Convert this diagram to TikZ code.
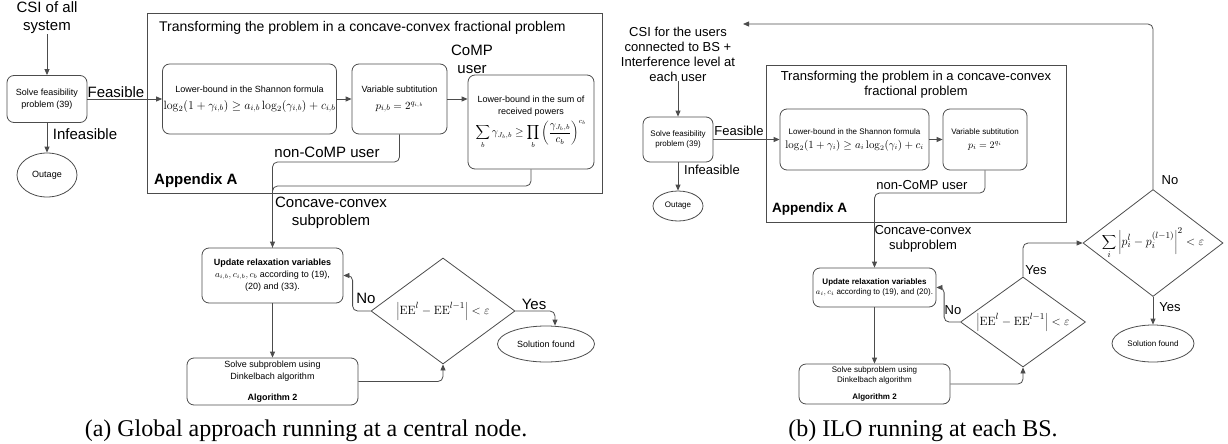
\documentclass[tikz,border=0pt]{standalone}
\usepackage[no-math]{fontspec}
\setmainfont{Liberation Sans}
\newfontfamily\capfont{Liberation Serif}
\usetikzlibrary{shapes.geometric,arrows.meta}
\tikzset{
  box/.style={draw=black!70,line width=0.8pt,rounded corners=7pt,align=center,inner sep=1pt},
  frame/.style={draw=black!70,line width=0.8pt,inner sep=0pt},
  oval/.style={draw=black!70,line width=0.8pt,ellipse,inner sep=0pt},
  dec/.style={draw=black!70,line width=0.8pt,diamond,inner sep=0pt},
  link/.style={draw=black!70,line width=0.8pt,rounded corners=5pt},
  arr/.style={link,-{Triangle[length=6pt,width=5pt]}},
  lblA/.style={font=\fontsize{15}{18}\selectfont,align=center,inner sep=0pt},
  lblB/.style={font=\fontsize{13}{15}\selectfont,align=center,inner sep=0pt},
  txtA/.style={font=\fontsize{9}{12}\selectfont},
  txtB/.style={font=\fontsize{8}{10}\selectfont},
}
\begin{document}
\begin{tikzpicture}[x=1pt,y=-1pt]
\useasboundingbox (0,0) rectangle (1228,444);
% (a) global approach
\node[lblA] (csiA) at (47,18) {CSI of all\\system};
\node[box,txtA,minimum width=80,minimum height=47] (feasA) at (47,99) {Solve feasibility\\problem (39)};
\node[oval,txtA,minimum width=60,minimum height=44] (outA) at (47,175) {Outage};
\node[frame,minimum width=455,minimum height=180] (appA) at (374.5,103) {};
\node[lblA,anchor=west,font=\fontsize{14}{17}\selectfont] (titA) at (159,28) {Transforming the problem in a concave-convex fractional problem};
\node[lblA,anchor=west,font=\bfseries\fontsize{15}{18}\selectfont] (appLblA) at (154,181) {Appendix A};
\node[box,txtA,minimum width=173,minimum height=70] (shanA) at (249.5,99) {Lower-bound in the Shannon formula\\[5pt]{\fontsize{12}{14}\selectfont $\log_2(1+\gamma_{i,b})\geq a_{i,b}\log_2(\gamma_{i,b})+c_{i,b}$}};
\node[box,txtA,minimum width=95,minimum height=70] (varA) at (399.5,99) {Variable subtitution\\[5pt]{\fontsize{11}{13}\selectfont $p_{i,b}=2^{q_{i,b}}$}};
\node[box,txtA,minimum width=126,minimum height=94] (compA) at (531,122) {Lower-bound in the sum of\\received powers\\[3pt]{\fontsize{10.5}{12}\selectfont $\displaystyle\sum_b \gamma_{J_b,b}\geq\prod_b\left(\frac{\gamma_{J_b,b}}{c_b}\right)^{c_b}$}};
\node[lblA] (compLbl) at (472,59) {CoMP\\user};
\node[lblA] (nonLblA) at (327,152) {non-CoMP user};
\node[lblA] (concA) at (331,213) {Concave-convex\\subproblem};
\node[box,txtA,minimum width=141,minimum height=55] (updA) at (272.5,275.5) {\textbf{Update relaxation variables}\\$a_{i,b},c_{i,b},c_b$ according to (19),\\(20) and (33).};
\node[box,txtA,minimum width=171,minimum height=47] (dinkA) at (272.5,381.5) {Solve subproblem using\\Dinkelbach algorithm\\[9pt]\textbf{Algorithm 2}};
\node[dec,minimum width=144,minimum height=106] (decA) at (443,311) {\makebox[0pt]{\fontsize{13}{15}\selectfont$\left|\mathrm{EE}^{l}-\mathrm{EE}^{l-1}\right|<\varepsilon$}};
\node[oval,txtA,minimum width=97,minimum height=36] (solA) at (546,344) {Solution found};
\node[lblA] (feasLblA) at (116,92) {Feasible};
\node[lblA] (infLblA) at (85,134) {Infeasible};
\node[lblA] (noA) at (366,298) {No};
\node[lblA] (yesA) at (534,304) {Yes};
\coordinate (jA) at (272.5,162);
\coordinate (kA) at (272.5,186);
\draw[arr] (csiA) -- (feasA);
\draw[arr] (feasA) -- (shanA);
\draw[arr] (feasA) -- (outA);
\draw[arr] (shanA) -- (varA);
\draw[arr] (varA.east) -- (varA.east -| compA.west);
\draw[link] (compA.south) |- (kA) -- (updA.north);
\draw[arr] (varA.south) |- (jA) -- (updA.north);
\draw[arr] (updA) -- (dinkA);
\draw[arr] (dinkA.east) -| (decA.south);
\draw[arr] (decA.west) -- ++(-18,0) |- (updA.east);
\draw[arr] (decA.east) -| ([xshift=9]solA.north);
% (b) ILO at each BS
\node[lblB] (csiB) at (678,54) {CSI for the users\\connected to BS +\\Interference level at\\each user};
\node[box,txtB,minimum width=70,minimum height=45] (feasB) at (678,139.5) {Solve feasibility\\problem (39)};
\node[oval,txtB,minimum width=50,minimum height=30] (outB) at (678,206) {Outage};
\node[frame,minimum width=300,minimum height=157] (appB) at (916,143.5) {};
\node[lblB] (titB) at (916,85) {Transforming the problem in a concave-convex\\fractional problem};
\node[lblB,anchor=west,font=\bfseries\fontsize{13.5}{16}\selectfont] (appLblB) at (772,209) {Appendix A};
\node[box,txtB,minimum width=149,minimum height=61] (shanB) at (854.5,139.5) {Lower-bound in the Shannon formula\\[4pt]{\fontsize{10.5}{12}\selectfont $\log_2(1+\gamma_i)\geq a_i\log_2(\gamma_i)+c_i$}};
\node[box,txtB,minimum width=84,minimum height=61] (varB) at (985,139.5) {Variable subtitution\\[4pt]{\fontsize{10}{12}\selectfont $p_i=2^{q_i}$}};
\node[lblB] (nonLblB) at (922,185) {non-CoMP user};
\node[lblB] (concB) at (923,239) {Concave-convex\\subproblem};
\node[box,txtB,minimum width=123,minimum height=39] (updB) at (874.5,287.5) {\textbf{Update relaxation variables}\\$a_i,c_i$ according to (19), and (20).};
\node[box,txtB,minimum width=151,minimum height=40] (dinkB) at (874.5,384) {Solve subproblem using\\Dinkelbach algorithm\\[7pt]\textbf{Algorithm 2}};
\node[dec,minimum width=125,minimum height=90] (decB) at (1023,322) {\makebox[0pt]{\fontsize{13}{15}\selectfont$\left|\mathrm{EE}^{l}-\mathrm{EE}^{l-1}\right|<\varepsilon$}};
\node[dec,minimum width=140,minimum height=107] (convB) at (1153,243) {\makebox[0pt]{\fontsize{12.5}{14}\selectfont$\displaystyle\sum_i\left|p_i^{l}-p_i^{(l-1)}\right|^2<\varepsilon$}};
\node[oval,txtB,minimum width=82,minimum height=37] (solB) at (1153,343.5) {Solution found};
\node[lblB] (feasLblB) at (739,131) {Feasible};
\node[lblB] (infLblB) at (712,170) {Infeasible};
\node[lblB] (noB) at (953,310) {No};
\node[lblB] (yesB) at (1036,270) {Yes};
\node[lblB] (yesB2) at (1170,307) {Yes};
\node[lblB] (noB2) at (1170,180) {No};
\coordinate (jB) at (874.5,193);
\coordinate (fbB) at (743,24);
\draw[arr] (csiB) -- (feasB);
\draw[arr] (feasB) -- (shanB);
\draw[arr] (feasB) -- (outB);
\draw[arr] (shanB) -- (varB);
\draw[arr] (varB.south) |- (jB) -- (updB.north);
\draw[arr] (updB) -- (dinkB);
\draw[arr] (dinkB.east) -| (decB.south);
\draw[arr] (decB.west) -- ++(-16,0) |- (updB.east);
\draw[arr] (decB.north) |- (convB.west);
\draw[arr] (convB) -- (solB);
\draw[arr] (convB.north) |- (fbB);
% captions
\node[font=\capfont\fontsize{24}{28}\selectfont] (capA) at (306,431) {(a) Global approach running at a central node.};
\node[font=\capfont\fontsize{24}{28}\selectfont] (capB) at (923,431) {(b) ILO running at each BS.};
\end{tikzpicture}
\end{document}
